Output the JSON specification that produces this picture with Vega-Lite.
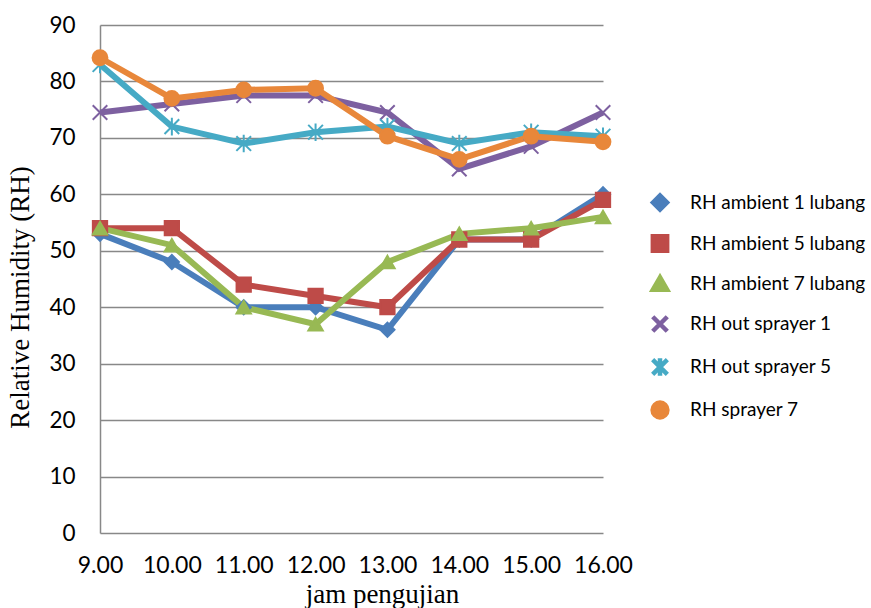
{
  "$schema": "https://vega.github.io/schema/vega-lite/v6.json",
  "autosize": "none",
  "width": 503,
  "height": 508,
  "padding": {"left": 100, "top": 25, "right": 268, "bottom": 75},
  "background": "white",
  "config": {"view": {"stroke": null}},
  "data": {"values": [
    {"jam": 9, "series": "RH ambient 1 lubang", "rh": 53},
    {"jam": 10, "series": "RH ambient 1 lubang", "rh": 48},
    {"jam": 11, "series": "RH ambient 1 lubang", "rh": 40},
    {"jam": 12, "series": "RH ambient 1 lubang", "rh": 40},
    {"jam": 13, "series": "RH ambient 1 lubang", "rh": 36},
    {"jam": 14, "series": "RH ambient 1 lubang", "rh": 52},
    {"jam": 15, "series": "RH ambient 1 lubang", "rh": 52},
    {"jam": 16, "series": "RH ambient 1 lubang", "rh": 60},
    {"jam": 9, "series": "RH ambient 5 lubang", "rh": 54},
    {"jam": 10, "series": "RH ambient 5 lubang", "rh": 54},
    {"jam": 11, "series": "RH ambient 5 lubang", "rh": 44},
    {"jam": 12, "series": "RH ambient 5 lubang", "rh": 42},
    {"jam": 13, "series": "RH ambient 5 lubang", "rh": 40},
    {"jam": 14, "series": "RH ambient 5 lubang", "rh": 52},
    {"jam": 15, "series": "RH ambient 5 lubang", "rh": 52},
    {"jam": 16, "series": "RH ambient 5 lubang", "rh": 59},
    {"jam": 9, "series": "RH ambient 7 lubang", "rh": 54},
    {"jam": 10, "series": "RH ambient 7 lubang", "rh": 51},
    {"jam": 11, "series": "RH ambient 7 lubang", "rh": 40},
    {"jam": 12, "series": "RH ambient 7 lubang", "rh": 37},
    {"jam": 13, "series": "RH ambient 7 lubang", "rh": 48},
    {"jam": 14, "series": "RH ambient 7 lubang", "rh": 53},
    {"jam": 15, "series": "RH ambient 7 lubang", "rh": 54},
    {"jam": 16, "series": "RH ambient 7 lubang", "rh": 56},
    {"jam": 9, "series": "RH out sprayer 1", "rh": 74.5},
    {"jam": 10, "series": "RH out sprayer 1", "rh": 76},
    {"jam": 11, "series": "RH out sprayer 1", "rh": 77.5},
    {"jam": 12, "series": "RH out sprayer 1", "rh": 77.5},
    {"jam": 13, "series": "RH out sprayer 1", "rh": 74.5},
    {"jam": 14, "series": "RH out sprayer 1", "rh": 64.5},
    {"jam": 15, "series": "RH out sprayer 1", "rh": 68.5},
    {"jam": 16, "series": "RH out sprayer 1", "rh": 74.5},
    {"jam": 9, "series": "RH out sprayer 5", "rh": 83},
    {"jam": 10, "series": "RH out sprayer 5", "rh": 72},
    {"jam": 11, "series": "RH out sprayer 5", "rh": 69},
    {"jam": 12, "series": "RH out sprayer 5", "rh": 71},
    {"jam": 13, "series": "RH out sprayer 5", "rh": 72},
    {"jam": 14, "series": "RH out sprayer 5", "rh": 69},
    {"jam": 15, "series": "RH out sprayer 5", "rh": 71},
    {"jam": 16, "series": "RH out sprayer 5", "rh": 70.3},
    {"jam": 9, "series": "RH sprayer 7", "rh": 84.2},
    {"jam": 10, "series": "RH sprayer 7", "rh": 77},
    {"jam": 11, "series": "RH sprayer 7", "rh": 78.5},
    {"jam": 12, "series": "RH sprayer 7", "rh": 78.8},
    {"jam": 13, "series": "RH sprayer 7", "rh": 70.3},
    {"jam": 14, "series": "RH sprayer 7", "rh": 66.2},
    {"jam": 15, "series": "RH sprayer 7", "rh": 70.3},
    {"jam": 16, "series": "RH sprayer 7", "rh": 69.3}
  ]},
  "encoding": {
    "x": {
      "field": "jam", "type": "quantitative",
      "scale": {"domain": [9, 16], "nice": false, "zero": false},
      "axis": {
        "values": [9, 10, 11, 12, 13, 14, 15, 16], "format": ".2f",
        "title": "jam pengujian", "titleFont": "Liberation Serif", "titleFontSize": 27,
        "titleFontWeight": "normal", "titleColor": "black",
        "titleX": 282, "titleY": 69, "titleBaseline": "alphabetic", "titleAlign": "center",
        "labelFont": "Lato", "labelFontSize": 23, "labelColor": "black",
        "labelPadding": 21, "ticks": false, "grid": false, "domain": false,
        "labelFlush": false
      }
    },
    "y": {
      "field": "rh", "type": "quantitative",
      "scale": {"domain": [0, 90], "nice": false},
      "axis": {
        "values": [0, 10, 20, 30, 40, 50, 60, 70, 80, 90],
        "title": "Relative Humidity (RH)", "titleFont": "Liberation Serif", "titleFontSize": 27,
        "titleFontWeight": "normal", "titleColor": "black",
        "titleX": -80, "titleY": 272, "titleAngle": -90, "titleBaseline": "middle", "titleAlign": "center",
        "labelFont": "Lato", "labelFontSize": 22.5, "labelColor": "black",
        "labelPadding": 25, "ticks": false, "grid": true, "gridColor": "#888888",
        "gridWidth": 1.5, "domainColor": "#888888", "domainWidth": 1.5
      }
    },
    "color": {
      "field": "series", "type": "nominal",
      "scale": {
        "domain": ["RH ambient 1 lubang", "RH ambient 5 lubang", "RH ambient 7 lubang", "RH out sprayer 1", "RH out sprayer 5", "RH sprayer 7"],
        "range": ["#4a7ebb", "#be4b48", "#98b954", "#7d60a0", "#46aac5", "#e8873a"]
      },
      "legend": {
        "title": null, "orient": "none", "legendX": 550, "legendY": 168,
        "labelFont": "Lato", "labelFontSize": 19, "labelColor": "black", "labelLimit": 400,
        "rowPadding": 8, "labelOffset": 20, "symbolSize": 225, "symbolStrokeWidth": 4.5,
        "encode": {
          "symbols": {
            "update": {
              "shape": {"value": {"expr": "datum.value === 'RH ambient 1 lubang' ? 'M-3.6,0L3.6,0M0,-0.5L0.5,0L0,0.5L-0.5,0Z' : datum.value === 'RH ambient 5 lubang' ? 'M-3.6,0L3.6,0M-0.45,-0.45L0.45,-0.45L0.45,0.45L-0.45,0.45Z' : datum.value === 'RH ambient 7 lubang' ? 'M-3.6,0L3.6,0M0,-0.55L0.55,0.4L-0.55,0.4Z' : datum.value === 'RH out sprayer 1' ? 'M-3.6,0L3.6,0M-0.55,-0.55L0.55,0.55M-0.55,0.55L0.55,-0.55' : datum.value === 'RH out sprayer 5' ? 'M-3.6,0L3.6,0M-0.55,-0.55L0.55,0.55M-0.55,0.55L0.55,-0.55M0,-0.65L0,0.65' : 'M-3.6,0L3.6,0M-0.55,0A0.55,0.55,0,1,1,0.55,0A0.55,0.55,0,1,1,-0.55,0Z'"}},
              "stroke": {"value": {"expr": "scale('color', datum.value)"}},
              "strokeWidth": {"value": 4.5},
              "opacity": {"value": 1}
            }
          }
        }
      }
    }
  },
  "layer": [
    {
      "mark": {"type": "line", "strokeWidth": 6},
      "encoding": {"detail": {"field": "series"}}
    },
    {
      "mark": {"type": "point", "filled": true, "opacity": 1, "strokeWidth": 2},
      "encoding": {
        "shape": {
          "field": "series", "type": "nominal", "legend": null,
          "scale": {
            "domain": ["RH ambient 1 lubang", "RH ambient 5 lubang", "RH ambient 7 lubang", "RH out sprayer 1", "RH out sprayer 5", "RH sprayer 7"],
            "range": ["diamond", "square", "triangle-up", "M-1,-1L1,1M-1,1L1,-1", "M-1,-1L1,1M-1,1L1,-1M0,-1.2L0,1.2", "circle"]
          }
        },
        "size": {
          "field": "series", "type": "ordinal", "legend": null,
          "scale": {
            "domain": ["RH ambient 1 lubang", "RH ambient 5 lubang", "RH ambient 7 lubang", "RH out sprayer 1", "RH out sprayer 5", "RH sprayer 7"],
            "range": [200, 220, 300, 220, 220, 340]
          }
        },
        "stroke": {
          "field": "series", "type": "nominal", "legend": null,
          "scale": {
            "domain": ["RH ambient 1 lubang", "RH ambient 5 lubang", "RH ambient 7 lubang", "RH out sprayer 1", "RH out sprayer 5", "RH sprayer 7"],
            "range": ["#4a7ebb", "#be4b48", "#98b954", "#7d60a0", "#46aac5", "#e8873a"]
          }
        }
      }
    }
  ]
}
